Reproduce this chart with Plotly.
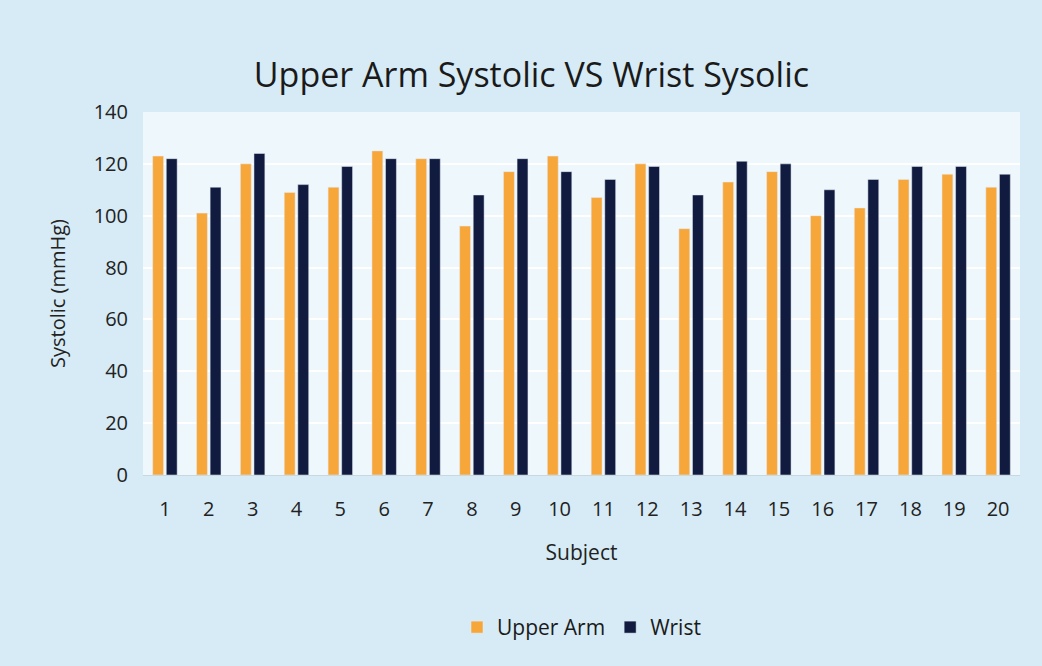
import plotly.graph_objects as go

subjects = [str(i) for i in range(1, 21)]
upper_arm = [123, 101, 120, 109, 111, 125, 122, 96, 117, 123, 107, 120, 95, 113, 117, 100, 103, 114, 116, 111]
wrist = [122, 111, 124, 112, 119, 122, 122, 108, 122, 117, 114, 119, 108, 121, 120, 110, 114, 119, 119, 116]

fig = go.Figure()
fig.add_trace(go.Bar(x=subjects, y=upper_arm, name="Upper Arm", marker_color="#f7a63a"))
fig.add_trace(go.Bar(x=subjects, y=wrist, name="Wrist", marker_color="#101b3f"))

fig.update_layout(
    width=1042, height=666,
    margin=dict(l=143, r=22, t=112, b=191),
    paper_bgcolor="#d6ebf5",
    plot_bgcolor="#eef7fb",
    font=dict(family="Open Sans, sans-serif", color="#222222"),
    title=dict(text="Upper Arm Systolic VS Wrist Sysolic", x=0.51, xanchor="center",
               y=0.887, yanchor="middle", font=dict(size=34, color="#1a1a1a")),
    barmode="group", bargap=0.38, bargroupgap=0.2,
    legend=dict(orientation="h", x=0.5, xanchor="center", y=-0.42, yanchor="middle",
                font=dict(size=21, color="#1a1a1a"), bgcolor="rgba(0,0,0,0)",
                itemwidth=30),
    xaxis=dict(title=dict(text="Subject", font=dict(size=21), standoff=24),
               tickfont=dict(size=20), showgrid=False, linecolor="#c8d8e0",
               ticks="", ticklabelstandoff=16),
    yaxis=dict(title=dict(text="Systolic (mmHg)", font=dict(size=20), standoff=22),
               range=[0, 140], dtick=20, tickfont=dict(size=20), ticklabelstandoff=14,
               gridcolor="#ffffff", gridwidth=1.5, zeroline=False),
)

fig.write_html("out.html")
